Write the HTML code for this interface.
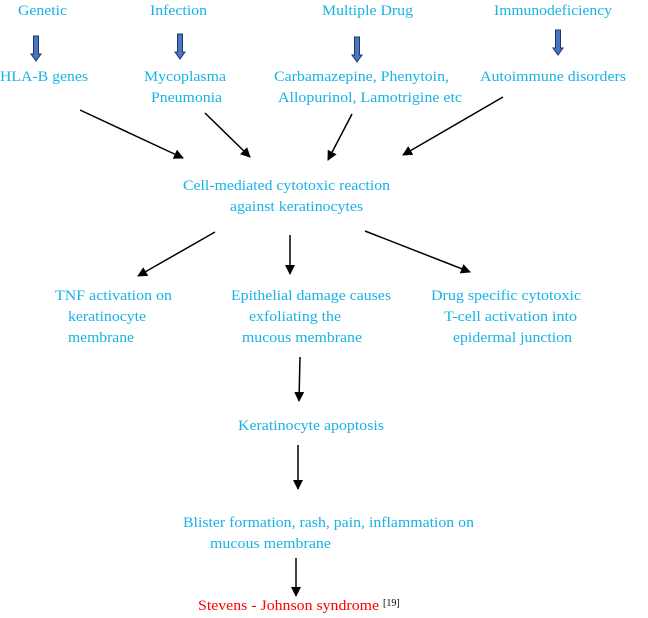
<!DOCTYPE html>
<html><head><style>
html,body{margin:0;padding:0;background:#fff;width:648px;height:618px;overflow:hidden}
text{font-family:"Liberation Serif",serif;font-size:15px;fill:#19b2e6}
</style></head><body>
<svg width="648" height="618" viewBox="0 0 648 618" xmlns="http://www.w3.org/2000/svg">
<defs>
<marker id="a" markerWidth="10" markerHeight="10" refX="9" refY="5" orient="auto" markerUnits="userSpaceOnUse"><path d="M0,0 L10,5 L0,10 z" fill="#000"/></marker>
<g id="ba"><path d="M-2.5,0 H2.5 V18 H5 L0,25 L-5,18 H-2.5 Z" fill="#4a74c4" stroke="#1f3763" stroke-width="1"/></g>
</defs>
<text x="18" y="15" textLength="49" lengthAdjust="spacingAndGlyphs">Genetic</text>
<text x="150" y="15" textLength="57" lengthAdjust="spacingAndGlyphs">Infection</text>
<text x="322" y="15" textLength="91" lengthAdjust="spacingAndGlyphs">Multiple Drug</text>
<text x="494" y="15" textLength="118" lengthAdjust="spacingAndGlyphs">Immunodeficiency</text>
<use href="#ba" x="36" y="36"/>
<use href="#ba" x="180" y="34"/>
<use href="#ba" x="357" y="37"/>
<use href="#ba" x="558" y="30"/>
<text x="0" y="81" textLength="88" lengthAdjust="spacingAndGlyphs">HLA-B genes</text>
<text x="144" y="81" textLength="82" lengthAdjust="spacingAndGlyphs">Mycoplasma</text>
<text x="151" y="102" textLength="71" lengthAdjust="spacingAndGlyphs">Pneumonia</text>
<text x="274" y="81" textLength="175" lengthAdjust="spacingAndGlyphs">Carbamazepine, Phenytoin,</text>
<text x="278" y="102" textLength="184" lengthAdjust="spacingAndGlyphs">Allopurinol, Lamotrigine etc</text>
<text x="480" y="81" textLength="146" lengthAdjust="spacingAndGlyphs">Autoimmune disorders</text>
<g stroke="#000" stroke-width="1.5" marker-end="url(#a)">
<line x1="80" y1="110" x2="183" y2="158"/>
<line x1="205" y1="113" x2="250" y2="157"/>
<line x1="352" y1="114" x2="328" y2="160"/>
<line x1="503" y1="97" x2="403" y2="155"/>
<line x1="215" y1="232" x2="138" y2="276"/>
<line x1="290" y1="235" x2="290" y2="274"/>
<line x1="365" y1="231" x2="470" y2="272"/>
<line x1="300" y1="357" x2="299" y2="401"/>
<line x1="298" y1="445" x2="298" y2="489"/>
<line x1="296" y1="558" x2="296" y2="596"/>
</g>
<text x="183" y="190" textLength="207" lengthAdjust="spacingAndGlyphs">Cell-mediated cytotoxic reaction</text>
<text x="230" y="211" textLength="133" lengthAdjust="spacingAndGlyphs">against keratinocytes</text>
<text x="55" y="300" textLength="117" lengthAdjust="spacingAndGlyphs">TNF activation on</text>
<text x="68" y="321" textLength="78" lengthAdjust="spacingAndGlyphs">keratinocyte</text>
<text x="68" y="342" textLength="66" lengthAdjust="spacingAndGlyphs">membrane</text>
<text x="231" y="300" textLength="160" lengthAdjust="spacingAndGlyphs">Epithelial damage causes</text>
<text x="249" y="321" textLength="92" lengthAdjust="spacingAndGlyphs">exfoliating the</text>
<text x="242" y="342" textLength="120" lengthAdjust="spacingAndGlyphs">mucous membrane</text>
<text x="431" y="300" textLength="150" lengthAdjust="spacingAndGlyphs">Drug specific cytotoxic</text>
<text x="444" y="321" textLength="133" lengthAdjust="spacingAndGlyphs">T-cell activation into</text>
<text x="453" y="342" textLength="119" lengthAdjust="spacingAndGlyphs">epidermal junction</text>
<text x="238" y="430" textLength="146" lengthAdjust="spacingAndGlyphs">Keratinocyte apoptosis</text>
<text x="183" y="527" textLength="291" lengthAdjust="spacingAndGlyphs">Blister formation, rash, pain, inflammation on</text>
<text x="210" y="548" textLength="121" lengthAdjust="spacingAndGlyphs">mucous membrane</text>
<text x="198" y="610" textLength="181" lengthAdjust="spacingAndGlyphs" style="fill:#f00">Stevens - Johnson syndrome</text>
<text x="383" y="606" style="fill:#000;font-size:10px">[19]</text>
</svg>
</body></html>
